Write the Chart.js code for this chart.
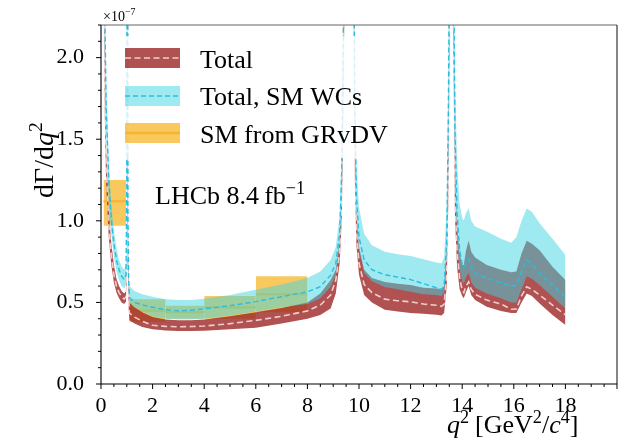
<!DOCTYPE html>
<html><head><meta charset="utf-8">
<script src="https://cdn.jsdelivr.net/npm/chart.js@4.4.0/dist/chart.umd.min.js"></script>
<style>html,body{margin:0;padding:0;background:#fff;}canvas{display:block;}</style>
</head><body>
<canvas id="c" width="626" height="444"></canvas>
<script>
// q^2 sample points [GeV^2/c^4]
const q2 = [0.10,0.15,0.20,0.30,0.40,0.50,0.60,0.70,0.80,0.90,
  0.97,1.00,1.015,1.03,1.045,1.07,1.10,1.30,1.60,2.00,
  2.50,3.00,3.50,4.00,5.00,6.00,7.00,8.00,8.50,8.90,
  9.10,9.25,9.33,9.38,9.43,9.59,9.75,9.80,9.84,9.90,
  10.00,10.20,10.50,11.00,11.50,12.00,12.50,13.00,13.20,13.30,
  13.40,13.46,13.52,13.58,13.65,13.72,13.80,13.90,14.00,14.06,
  14.15,14.25,14.35,14.50,14.95,15.50,15.90,16.10,16.30,16.50,
  16.70,17.00,17.50,18.00];
// "Total, SM WCs" band (x1e-7)
const smHigh = [4.0,2.45,1.85,1.36,1.10,0.94,0.83,0.76,0.72,0.70,
  0.74,1.40,4.0,4.0,1.20,0.75,0.60,0.57,0.55,0.535,
  0.52,0.514,0.515,0.522,0.545,0.578,0.61,0.65,0.69,0.76,
  0.84,1.03,1.45,2.20,3.20,10,3.50,2.80,1.90,1.35,
  1.08,0.92,0.85,0.81,0.795,0.785,0.765,0.745,0.74,0.78,
  1.10,1.90,3.20,10,3.20,1.90,1.35,1.10,1.02,1.00,
  1.05,1.075,1.00,0.965,0.935,0.89,0.865,0.90,1.00,1.075,
  1.055,0.985,0.89,0.79];
const smMid = [3.6,2.25,1.70,1.25,1.01,0.86,0.76,0.70,0.66,0.64,
  0.67,1.20,4.0,4.0,1.00,0.65,0.53,0.50,0.485,0.47,
  0.455,0.449,0.452,0.461,0.48,0.505,0.535,0.565,0.596,0.667,
  0.739,0.92,1.30,1.95,2.90,10,3.20,2.55,1.65,1.15,
  0.90,0.76,0.70,0.67,0.655,0.64,0.615,0.59,0.58,0.60,
  0.88,1.60,2.90,10,2.90,1.55,1.05,0.82,0.735,0.715,
  0.745,0.765,0.715,0.68,0.649,0.62,0.60,0.605,0.69,0.759,
  0.735,0.678,0.606,0.535];
const smLow = [3.2,2.05,1.55,1.14,0.92,0.78,0.69,0.635,0.60,0.585,
  0.61,1.00,4.0,4.0,0.90,0.60,0.50,0.47,0.445,0.415,
  0.40,0.395,0.395,0.40,0.42,0.445,0.47,0.49,0.525,0.596,
  0.67,0.86,1.20,1.80,2.70,10,3.00,2.40,1.50,1.05,
  0.82,0.68,0.63,0.595,0.58,0.565,0.55,0.545,0.54,0.56,
  0.80,1.45,2.70,10,2.70,1.35,0.90,0.70,0.63,0.615,
  0.655,0.68,0.625,0.59,0.555,0.525,0.50,0.50,0.58,0.661,
  0.645,0.606,0.535,0.463];
// "Total" band (x1e-7)
const totHigh = [3.2,1.95,1.45,1.07,0.86,0.73,0.645,0.60,0.57,0.555,
  0.57,1.00,4.0,4.0,0.90,0.60,0.50,0.47,0.44,0.41,
  0.395,0.39,0.39,0.395,0.415,0.44,0.465,0.50,0.555,0.637,
  0.70,0.88,1.20,1.80,2.60,10,2.90,2.40,1.50,1.05,
  0.84,0.70,0.65,0.625,0.615,0.606,0.59,0.585,0.58,0.60,
  0.82,1.45,2.60,10,2.60,1.35,0.98,0.80,0.73,0.73,
  0.82,0.88,0.81,0.775,0.729,0.70,0.685,0.69,0.80,0.878,
  0.86,0.82,0.718,0.637];
const totMid = [2.9,1.78,1.33,0.98,0.79,0.67,0.60,0.56,0.535,0.52,
  0.535,0.90,4.0,4.0,0.80,0.53,0.435,0.41,0.385,0.36,
  0.353,0.351,0.352,0.355,0.37,0.39,0.415,0.448,0.484,0.545,
  0.637,0.81,1.10,1.62,2.40,10,2.70,2.30,1.37,0.95,
  0.74,0.61,0.56,0.52,0.51,0.504,0.49,0.483,0.475,0.49,
  0.68,1.25,2.40,10,2.40,1.15,0.82,0.65,0.575,0.56,
  0.60,0.626,0.58,0.55,0.514,0.49,0.458,0.46,0.54,0.596,
  0.58,0.545,0.484,0.423];
const totLow = [2.6,1.62,1.21,0.90,0.73,0.62,0.56,0.525,0.50,0.49,
  0.505,0.80,4.0,4.0,0.70,0.47,0.39,0.37,0.35,0.335,
  0.328,0.325,0.325,0.327,0.335,0.345,0.37,0.40,0.423,0.463,
  0.555,0.74,1.00,1.50,2.20,10,2.50,2.20,1.25,0.85,
  0.67,0.545,0.50,0.455,0.445,0.435,0.43,0.425,0.42,0.435,
  0.60,1.10,2.20,10,2.20,1.02,0.72,0.58,0.54,0.525,
  0.565,0.60,0.545,0.515,0.473,0.448,0.435,0.435,0.50,0.555,
  0.54,0.494,0.423,0.361];
// SM from GRvDV bins
const binLo = [0.1,1.1,2.5,4.0,6.0];
const binHi = [0.98,2.5,4.0,6.0,8.0];
const grvdvLow = [0.97,0.38,0.40,0.40,0.44];
const grvdvMid = [1.12,0.45,0.44,0.47,0.55];
const grvdvHigh = [1.25,0.52,0.48,0.54,0.66];
// ticks
const xTicks = [0,2,4,6,8,10,12,14,16,18];
const yTicks = [0.0,0.5,1.0,1.5,2.0];
const legendLabels = ['Total','Total, SM WCs','SM from GRvDV'];

const FONT = "'Liberation Serif','Times New Roman',serif";
const RED = 'rgba(156,39,39,0.8)';
const CYAN = 'rgba(63,211,226,0.5)';
const ORANGE = 'rgba(247,181,41,0.75)';
const ORANGE_LINE = 'rgb(247,181,41)';
const CYAN_LINE = 'rgb(40,190,225)';
const WHITE_LINE = 'rgba(255,228,228,0.85)';
const NONE = 'rgba(0,0,0,0)';

function pts(arr){ return q2.map((x,i)=>({x:x,y:arr[i]})); }
const ds = [];
ds.push({data:pts(smMid),borderColor:CYAN_LINE,borderWidth:1.4,borderDash:[5,3],fill:false,order:0});
ds.push({data:pts(smHigh),borderColor:NONE,borderWidth:0.01,fill:'+1',backgroundColor:CYAN,order:1});
ds.push({data:pts(smLow),borderColor:NONE,borderWidth:0.01,fill:false,order:1});
ds.push({data:pts(totMid),borderColor:WHITE_LINE,borderWidth:1.6,borderDash:[6,3.5],fill:false,order:2});
ds.push({data:pts(totHigh),borderColor:NONE,borderWidth:0.01,fill:'+1',backgroundColor:RED,order:3});
ds.push({data:pts(totLow),borderColor:NONE,borderWidth:0.01,fill:false,order:3});
for(let i=0;i<binLo.length;i++){
  ds.push({data:[{x:binLo[i],y:grvdvHigh[i]},{x:binHi[i],y:grvdvHigh[i]}],borderColor:NONE,borderWidth:0.01,fill:'+1',backgroundColor:ORANGE,order:4});
  ds.push({data:[{x:binLo[i],y:grvdvLow[i]},{x:binHi[i],y:grvdvLow[i]}],borderColor:NONE,borderWidth:0.01,fill:false,order:4});
  ds.push({data:[{x:binLo[i],y:grvdvMid[i]},{x:binHi[i],y:grvdvMid[i]}],borderColor:ORANGE_LINE,borderWidth:2.2,fill:false,order:4});
}

function rich(ctx, parts, x, y){
  let cx = x;
  for(const p of parts){
    const size = p.sup ? p.size*0.7 : p.size;
    ctx.font = (p.it?'italic ':'') + size + 'px ' + FONT;
    const yy = p.sup ? y - p.size*0.40 : y;
    ctx.fillText(p.t, cx, yy);
    cx += ctx.measureText(p.t).width + (p.gap||0);
  }
  return cx - x;
}

const deco = {
  id:'deco',
  afterDatasetsDraw(chart){
    const ctx = chart.ctx;
    ctx.save();
    ctx.fillStyle = 'rgba(255,255,255,0.8)';
    ctx.beginPath();
    const bx=116,by=36,bw=282,bh=122,r=4;
    ctx.moveTo(bx+r,by);ctx.lineTo(bx+bw-r,by);ctx.quadraticCurveTo(bx+bw,by,bx+bw,by+r);
    ctx.lineTo(bx+bw,by+bh-r);ctx.quadraticCurveTo(bx+bw,by+bh,bx+bw-r,by+bh);
    ctx.lineTo(bx+r,by+bh);ctx.quadraticCurveTo(bx,by+bh,bx,by+bh-r);
    ctx.lineTo(bx,by+r);ctx.quadraticCurveTo(bx,by,bx+r,by);ctx.closePath();ctx.fill();
    const rows=[{y:48,fill:RED,line:WHITE_LINE,dash:[6,3.5],lw:1.6},
                {y:86,fill:CYAN,line:CYAN_LINE,dash:[5,3],lw:1.4},
                {y:123,fill:ORANGE,line:ORANGE_LINE,dash:[],lw:2.6}];
    const base=[68,105,143];
    rows.forEach((rw,i)=>{
      ctx.fillStyle=rw.fill; ctx.fillRect(125,rw.y,55,20);
      ctx.strokeStyle=rw.line; ctx.lineWidth=rw.lw; ctx.setLineDash(rw.dash);
      ctx.beginPath(); ctx.moveTo(125,rw.y+10); ctx.lineTo(180,rw.y+10); ctx.stroke();
      ctx.setLineDash([]);
      ctx.fillStyle='#000'; ctx.font='26px '+FONT; ctx.textBaseline='alphabetic';
      ctx.fillText(legendLabels[i],200,base[i]);
    });
    ctx.fillStyle='#000';
    rich(ctx,[{t:'LHCb 8.4\u2009fb',size:26},{t:'\u22121',size:26,sup:true}],155,204);
    ctx.restore();
  },
  afterDraw(chart){
    const ctx=chart.ctx, a=chart.chartArea, xs=chart.scales.x, ys=chart.scales.y;
    ctx.save();
    ctx.lineWidth=1.1;
    ctx.strokeStyle='#666';
    ctx.beginPath();ctx.moveTo(a.left,a.top);ctx.lineTo(a.right,a.top);ctx.stroke();
    ctx.strokeStyle='#222';
    ctx.beginPath();ctx.moveTo(a.right,a.top);ctx.lineTo(a.right,a.bottom);ctx.stroke();
    ctx.strokeStyle='#000';
    ctx.beginPath();ctx.moveTo(a.left,a.top);ctx.lineTo(a.left,a.bottom);ctx.lineTo(a.right,a.bottom);ctx.stroke();
    ctx.lineWidth=1;
    ctx.beginPath();
    for(let k=0;k<=22;k++){
      const v=k/10, py=ys.getPixelForValue(v), len=(k%5===0)?5:3;
      ctx.moveTo(a.left-len,py);ctx.lineTo(a.left,py);
    }
    for(let k=0;k<=40;k++){
      const v=k/2, px=xs.getPixelForValue(v), len=(k%4===0)?5:3;
      ctx.moveTo(px,a.bottom);ctx.lineTo(px,a.bottom+len);
    }
    ctx.stroke();
    ctx.fillStyle='#000';ctx.textBaseline='alphabetic';
    rich(ctx,[{t:'\u00d710',size:14},{t:'\u22127',size:14,sup:true}],103,21);
    rich(ctx,[{t:'q',size:26,it:true},{t:'2',size:26,sup:true,gap:6},{t:'[GeV',size:26},{t:'2',size:26,sup:true},{t:'/',size:26},{t:'c',size:26,it:true},{t:'4',size:26,sup:true},{t:']',size:26}],447,433);
    ctx.translate(53,198);ctx.rotate(-Math.PI/2);
    rich(ctx,[{t:'d\u0393/d',size:28},{t:'q',size:28,it:true},{t:'2',size:28,sup:true}],0,0);
    ctx.restore();
  }
};

new Chart(document.getElementById('c'),{
  type:'line',
  data:{datasets:ds},
  options:{
    responsive:false,animation:false,devicePixelRatio:1,
    layout:{padding:{left:0,right:9,top:25,bottom:0},autoPadding:false},
    plugins:{legend:{display:false},tooltip:{enabled:false}},
    elements:{line:{tension:0},point:{radius:0}},
    scales:{
      x:{type:'linear',min:0,max:20,grid:{display:false},border:{display:false},
        afterBuildTicks:(s)=>{s.ticks=xTicks.map(v=>({value:v}));},
        ticks:{autoSkip:false,maxRotation:0,padding:1,color:'#000',font:{family:FONT,size:22},callback:(v)=>String(v)},
        afterFit:(s)=>{s.height=60;}},
      y:{type:'linear',min:0,max:2.2,grid:{display:false},border:{display:false},
        afterBuildTicks:(s)=>{s.ticks=yTicks.map(v=>({value:v}));},
        ticks:{padding:9,color:'#000',font:{family:FONT,size:22},callback:(v)=>Number(v).toFixed(1)},
        afterFit:(s)=>{s.width=101;}}
    }
  },
  plugins:[deco]
});
</script>
</body></html>
